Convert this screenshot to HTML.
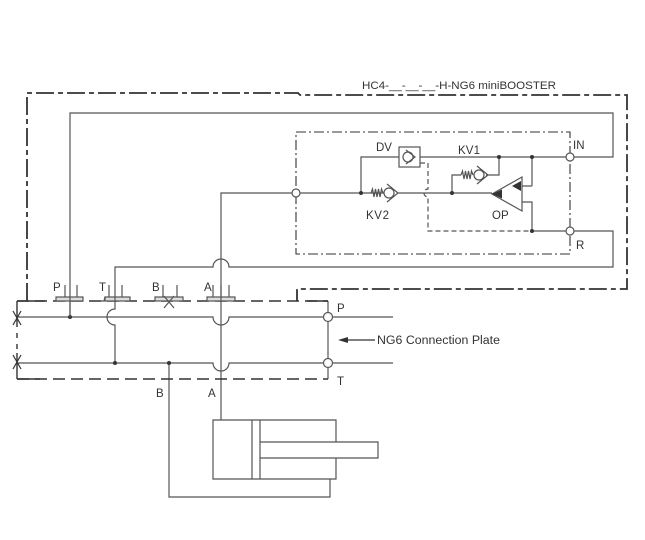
<!DOCTYPE html>
<html><head><meta charset="utf-8"><style>
html,body{margin:0;padding:0;background:#fff;}
svg{display:block;}
text{font-family:"Liberation Sans",sans-serif;fill:#333;}
</style></head><body>
<svg width="645" height="540" viewBox="0 0 645 540" xmlns="http://www.w3.org/2000/svg">
<rect width="645" height="540" fill="#fff"/>
<!-- Outer box -->
<path d="M27 301 V93 H298 L300 95 H627 V289 H297 V301" fill="none" stroke="#333" stroke-width="1.8" stroke-dasharray="18 4 5 4"/>
<text x="362" y="89" font-size="11" textLength="194" lengthAdjust="spacingAndGlyphs">HC4-__-__-__-H-NG6 miniBOOSTER</text>
<!-- inner dash-dot box -->
<rect x="296" y="132" width="274" height="122" fill="none" stroke="#333" stroke-width="1.1" stroke-dasharray="10 3 2 3"/>

<g fill="none" stroke="#555" stroke-width="1.2">
<!-- P to IN -->
<path d="M70 317 V113 H613 V157 H570"/>
<!-- R line to T -->
<path d="M570 231 H613 V267 H229 A8 8 0 0 0 213 267 H115 V309 A8 8 0 0 0 115 325 V363"/>
<!-- A line -->
<path d="M296 193 H221 V420"/>
<!-- manifold P line -->
<path d="M17 317 H213 A8 8 0 0 0 229 317 H393"/>
<!-- manifold T line -->
<path d="M17 363 H213 A8 8 0 0 0 229 363 H393"/>
<!-- B line -->
<path d="M169 363 V497 H330 V479"/>
<!-- manifold right side -->
<path d="M328 301 V379"/>
<!-- cylinder -->
<path d="M336 442 V420 H213 V479 H336 V458"/>
<path d="M252 420 V479 M260 420 V479"/>
<path d="M260 442 H378 V458 H260"/>

<!-- inner circuit -->
<path d="M296 193 H384"/>
<path d="M398 193 H492"/>
<path d="M361 193 V157 H399"/>
<rect x="399" y="147" width="21" height="20"/>
<path d="M420 157 H570"/>
<!-- KV1 -->
<path d="M452 193 V175 H461"/>
<path d="M461 175 l1.5 -4 l1.5 8 l1.5 -8 l1.5 8 l1.5 -8 l1.5 8 l1.5 -8 l1.5 4"/>
<path d="M486 175 H499 V157"/>
<!-- KV2 spring -->
<path d="M371 193 l1.5 -4 l1.5 8 l1.5 -8 l1.5 8 l1.5 -8 l1.5 8 l1.5 -8 l1.5 4"/>
<!-- OP -->
<path d="M492 194 L522 177 L522 211 Z"/>
<path d="M522 186 H532 M532 157 V186 M522 202 H532 V231 H570"/>
</g>
<!-- dashed pilot -->
<path d="M420 163 H428 V189 A4 4 0 0 0 428 197 V231 H532" fill="none" stroke="#555" stroke-width="1.2" stroke-dasharray="5 3"/>

<!-- check valves -->
<g fill="#fff" stroke="#555" stroke-width="1.2">
<circle cx="389" cy="193" r="5"/>
<circle cx="479" cy="175" r="5"/>
<circle cx="408" cy="157" r="5"/>
</g>
<g fill="none" stroke="#555" stroke-width="1.2">
<path d="M387 184 L398 193 L387 202"/>
<path d="M477 166 L488 175 L477 184"/>
<path d="M406 150 L415 157 L406 164"/>
</g>
<!-- filled arrows OP -->
<polygon points="492,194 502,189.5 502,198.5" fill="#333"/>
<polygon points="512,186 521,181 521,191" fill="#333"/>

<!-- dots -->
<g fill="#333">
<circle cx="70" cy="317" r="2"/>
<circle cx="115" cy="363" r="2"/>
<circle cx="169" cy="363" r="2"/>
<circle cx="361" cy="193" r="2"/>
<circle cx="452" cy="193" r="2"/>
<circle cx="499" cy="157" r="2"/>
<circle cx="532" cy="157" r="2"/>
<circle cx="532" cy="231" r="2"/>
</g>

<!-- manifold outline -->
<path d="M17 301 H328" fill="none" stroke="#333" stroke-width="1.6" stroke-dasharray="12 6"/>
<path d="M17 379 H328" fill="none" stroke="#333" stroke-width="1.6" stroke-dasharray="12 6"/>
<path d="M17 301 V327 M17 333 V338 M17 344 V349 M17 353 V379" fill="none" stroke="#333" stroke-width="1.4"/>
<path d="M307 301 H328 M17 301 H45 M17 379 H40" fill="none" stroke="#333" stroke-width="1.6"/>
<!-- X marks -->
<g stroke="#333" stroke-width="1.2">
<path d="M13 311 L21 325 M21 311 L13 325"/>
<path d="M13 355 L21 369 M21 355 L13 369"/>
</g>

<!-- port symbols -->
<g stroke="#555" stroke-width="1.2" fill="#ddd">
<rect x="56" y="297" width="27" height="4"/>
<rect x="105" y="297" width="25" height="4"/>
<rect x="155" y="297" width="28" height="4"/>
<rect x="207" y="297" width="28" height="4"/>
</g>
<g stroke="#555" stroke-width="1.2" fill="none">
<path d="M65 285 V297 M77 285 V297"/>
<path d="M109 285 V297 M122 285 V297 M101 301 H104 L105 297"/>
<path d="M163 285 V297 M177 285 V297"/>
<path d="M213 285 V297 M229 285 V297"/>
<path d="M164 296 L174 308 M174 296 L164 308"/>
<path d="M70 297 V317 M115 297 V301 M221 285 V301"/>
</g>

<!-- port circles -->
<g fill="#fff" stroke="#555" stroke-width="1.2">
<circle cx="296" cy="193" r="4"/>
<circle cx="570" cy="157" r="4"/>
<circle cx="570" cy="231" r="4"/>
<circle cx="328" cy="317" r="4.5"/>
<circle cx="328" cy="363" r="4.5"/>
</g>

<!-- NG6 arrow -->
<path d="M375 340 H345" stroke="#333" stroke-width="1.2"/>
<polygon points="338,340 348,337 348,343" fill="#333"/>

<!-- labels -->
<g font-size="11.5">
<text x="376" y="151">DV</text>
<text x="458" y="154" textLength="22" lengthAdjust="spacing">KV1</text>
<text x="573" y="149">IN</text>
<text x="366" y="219" textLength="23" lengthAdjust="spacing">KV2</text>
<text x="492" y="219">OP</text>
<text x="576" y="249">R</text>
<text x="337" y="312">P</text>
<text x="337" y="385">T</text>
<text x="377" y="344" textLength="123" lengthAdjust="spacingAndGlyphs">NG6 Connection Plate</text>
<text x="53" y="291">P</text>
<text x="99" y="291">T</text>
<text x="152" y="291">B</text>
<text x="204" y="291">A</text>
<text x="156" y="397">B</text>
<text x="208" y="397">A</text>
</g>
</svg>
</body></html>
